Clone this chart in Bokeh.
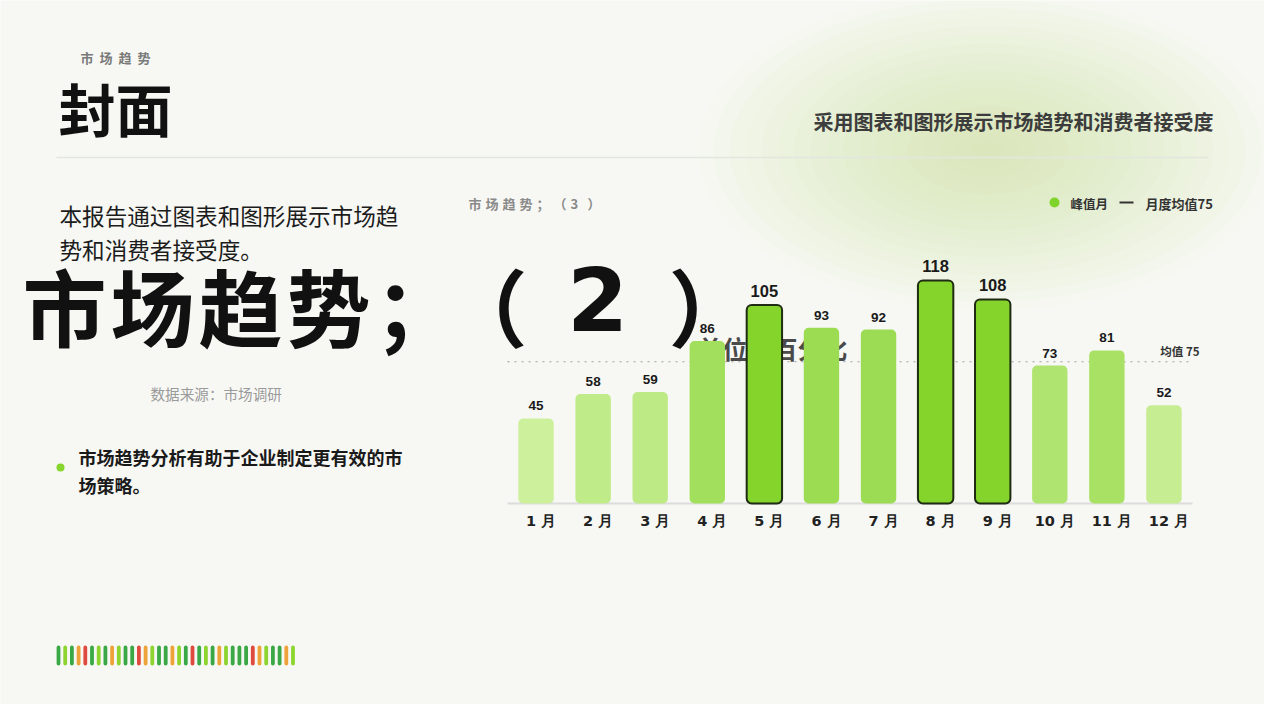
from bokeh.plotting import figure
from bokeh.models import Range1d, ColumnDataSource
from bokeh.core.properties import value
from bokeh.embed import file_html
from bokeh.resources import INLINE

# ---------------- data ----------------
months = ["1 月", "2 月", "3 月", "4 月", "5 月", "6 月",
          "7 月", "8 月", "9 月", "10 月", "11 月", "12 月"]
values = [45, 58, 59, 86, 105, 93, 92, 118, 108, 73, 81, 52]
average = 75
peak_threshold = 100

kicker = "市场趋势"
title = "封面"
subtitle = "采用图表和图形展示市场趋势和消费者接受度"
intro_lines = ["本报告通过图表和图形展示市场趋", "势和消费者接受度。"]
big_caption = "市场趋势；（"
big_number = "2"
big_close = "）"
unit_caption = "单位：百分比"
source_note = "数据来源：市场调研"
bullet_lines = ["市场趋势分析有助于企业制定更有效的市", "场策略。"]
chart_title = "市场趋势；（3）"
legend_peak = "峰值月"
legend_avg = "月度均值75"
avg_label = "均值 75"

# decorative strip colour codes (d=dark green, l=light green, o=orange, r=red)
strip_codes = list("dldordldoldd" + "rolddoldrdldolddd" + "rolddol")

# ---------------- style ----------------
CJK = "Noto Sans CJK SC"
NUM = "Liberation Sans"
BG = "#f7f8f4"
W, H = 1264, 704

p = figure(width=W, height=H, x_range=Range1d(8, 8 + W), y_range=Range1d(8 + H, 8),
           output_backend="svg", toolbar_location=None, min_border=0,
           x_axis_location=None, y_axis_location=None,
           background_fill_color=BG, border_fill_color=BG, outline_line_color=None)
p.grid.visible = False


def txt(x, y, t, size, color="#222222", bold=False, align="left", font=CJK, baseline="middle"):
    p.text(x=[x], y=[y], text=[t], text_font=value(font), text_font_size=f"{size}px",
           text_color=color, text_font_style="bold" if bold else "normal",
           text_align=align, text_baseline=baseline)


def spaced(x, y, t, advances, size, color, bold=False):
    if not isinstance(advances, (list, tuple)):
        advances = [advances] * len(t)
    for ch, adv in zip(t, advances):
        txt(x, y, ch, size, color, bold)
        x += adv


def hexrgb(c):
    c = c.lstrip("#")
    return [int(c[i:i + 2], 16) for i in (0, 2, 4)]


def mix(c1, c2, t):
    a, b = hexrgb(c1), hexrgb(c2)
    return "#" + "".join(f"{round(a[i] + (b[i] - a[i]) * t):02x}" for i in range(3))


# ---- soft green glow ----
n_glow = 18
for k in range(n_glow):
    f = 1 - k / n_glow
    p.ellipse(x=[995], y=[158], width=[580 * f], height=[320 * f],
              fill_color="#c8e79a", fill_alpha=0.034, line_color=None)

# ---- header ----
spaced(88, 65, kicker, 19, 13, "#7a7a7a", True)
txt(66, 114, title, 57, "#111111", True)
txt(1221, 129, subtitle, 20, "#3c3c3c", True, align="right")
p.line(x=[64, 1216], y=[165, 165], line_color="#e3e5df", line_width=1.5)

# ---- left column ----
for k, line in enumerate(intro_lines):
    txt(67, 223 + 34 * k, line, 22.6, "#1c1c1c")
txt(158, 401, source_note, 14.6, "#9a9a9a")
p.scatter(x=[68], y=[475], size=8, fill_color="#86d62e", line_color=None)
for k, line in enumerate(bullet_lines):
    txt(86, 464 + 28 * k, line, 18, "#1a1a1a", True)

# ---- decorative strip ----
strip_col = {"d": "#3aa845", "l": "#8dd42f", "o": "#eea23a", "r": "#df4a3e"}
p.vbar(x=[66 + 6.7 * k for k in range(len(strip_codes))], top=653, bottom=673, width=3.8,
       fill_color=[strip_col[c] for c in strip_codes], line_color=None, border_radius=2)

# ---- chart title & legend ----
spaced(476, 211, chart_title, 17, 13, "#8a8a8a", True)
p.scatter(x=[1062], y=[210], size=10, fill_color="#7fd32a", line_color=None)
txt(1078, 211, legend_peak, 12.5, "#333333", True)
p.line(x=[1127, 1141], y=[210, 210], line_color="#333333", line_width=2)
txt(1153, 211, legend_avg, 13, "#333333", True)

# ---- bar chart (own scales) ----
chart_left, chart_right, baseline_y, px_per_unit = 515, 1200, 511, 1.89
n = len(months)
slot = (chart_right - chart_left) / n
p.extra_x_ranges = {"mx": Range1d(0.5 + (8 - chart_left) / slot, 0.5 + (8 + W - chart_left) / slot)}
p.extra_y_ranges = {"vy": Range1d((baseline_y - (8 + H)) / px_per_unit, (baseline_y - 8) / px_per_unit)}

# unit caption sits behind the bars
txt(705, 355, unit_caption, 25, "#4a4a4a", True)

idx = list(range(1, n + 1))
peak = [v >= peak_threshold for v in values]
vmin = min(v for v, pk in zip(values, peak) if not pk)
vmax = max(v for v, pk in zip(values, peak) if not pk)
colors = ["#84d42c" if pk else mix("#cdf09c", "#9bdc52", (v - vmin) / (vmax - vmin))
          for v, pk in zip(values, peak)]

src = ColumnDataSource(dict(
    idx=idx, val=values, month=months, color=colors,
    lalpha=[1.0 if pk else 0.0 for pk in peak],
    label=[str(v) for v in values],
    fs=["16.5px" if pk else "13.5px" for pk in peak],
))

p.line(x=[0.5, n + 0.5], y=[0, 0], x_range_name="mx", y_range_name="vy",
       line_color="#dcdcdc", line_width=2)
p.line(x=[0.5, n + 0.5], y=[average, average], x_range_name="mx", y_range_name="vy",
       line_color="#a0a0a0", line_width=1.2, line_dash="2 5")
p.vbar(x="idx", top="val", bottom=0, width=0.62, source=src, x_range_name="mx", y_range_name="vy",
       fill_color="color", line_color="#1f2b12", line_alpha="lalpha", line_width=2, border_radius=5)
p.text(x="idx", y="val", text="label", source=src, x_range_name="mx", y_range_name="vy",
       text_font=value(NUM), text_font_size="fs", text_font_style="bold", text_color="#1a1a1a",
       text_align="center", text_baseline="bottom", y_offset=-8)
p.text(x="idx", y=0, text="month", source=src, x_range_name="mx", y_range_name="vy",
       text_font=value("DejaVu Sans"), text_font_size="14.5px", text_font_style="bold",
       text_color="#222222", text_align="center", text_baseline="middle", x_offset=5, y_offset=17)
p.text(x=[n + 0.5], y=[average], text=[avg_label], x_range_name="mx", y_range_name="vy",
       text_font=value(CJK), text_font_size="11.5px", text_font_style="bold", text_color="#333333",
       text_align="right", text_baseline="middle", x_offset=7, y_offset=-11)

# ---- big overlapping caption (on top), wide tracking ----
spaced(30, 312, big_caption, [88, 88, 88, 88, 69, 0], 84, "#111111", True)
txt(605, 306, big_number, 88, "#111111", True, align="center", font="DejaVu Sans")
txt(676, 312, big_close, 84, "#111111", True)

open("out.html", "w").write(file_html(p, INLINE))
